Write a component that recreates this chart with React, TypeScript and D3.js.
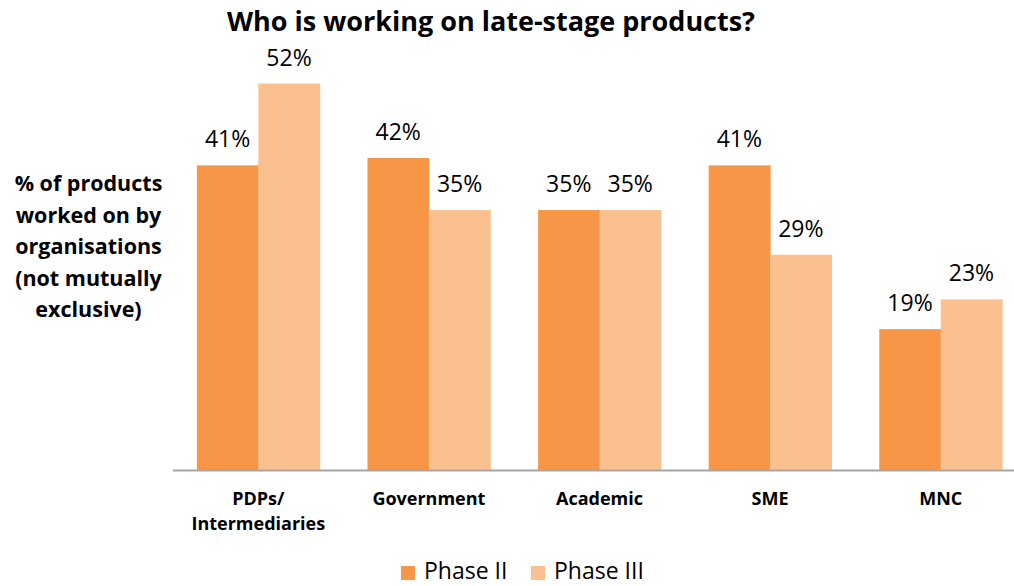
import * as d3 from 'd3'

// chart data
const categories = ['PDPs/\nIntermediaries', 'Government', 'Academic', 'SME', 'MNC']
const series = ['Phase II', 'Phase III']
const phase2 = [41, 42, 35, 41, 19]
const phase3 = [52, 35, 35, 29, 23]
const colors = ['#F79646', '#FAC090']
const yLabelLines = ['% of products', 'worked on by', 'organisations', '(not mutually', 'exclusive)']

const W = 1014
const H = 586
const baseline = 470.5
const font = '"Open Sans", "Noto Sans", sans-serif'

export default function App() {
  const x0 = d3.scaleBand<string>()
    .domain(categories)
    .range([173, 1026])
    .paddingInner(0.28)
    .paddingOuter(0.14)

  const x1 = d3.scaleBand<string>()
    .domain(series)
    .range([0, x0.bandwidth()])

  // ~7.44px per percentage point
  const y = d3.scaleLinear().domain([0, 60]).range([baseline, baseline - 446.5])

  const values = [phase2, phase3]

  return (
    <svg width={W} height={H} style={{ position: 'absolute', left: 0, top: 0, background: '#fff' }}>
      <text x={491} y={31} textAnchor="middle" fontFamily={font} fontWeight="bold" fontSize={26}
        textLength={528} lengthAdjust="spacingAndGlyphs" fill="#000">
        Who is working on late-stage products?
      </text>

      {yLabelLines.map((t, i) => (
        <text key={t} x={88.5} y={191 + i * 31.5} textAnchor="middle" fontFamily={font}
          fontWeight="bold" fontSize={21.5} fill="#000">{t}</text>
      ))}

      {categories.map((c, ci) => (
        <g key={c} transform={`translate(${x0(c)},0)`}>
          {series.map((s, si) => {
            const v = values[si][ci]
            const bx = x1(s)!
            return (
              <g key={s}>
                <rect x={bx} y={y(v)} width={x1.bandwidth() + 0.5} height={baseline - y(v)} fill={colors[si]} />
                <text x={bx + x1.bandwidth() / 2} y={y(v) - 18} textAnchor="middle" fontFamily={font}
                  fontSize={23} fill="#000">{v}%</text>
              </g>
            )
          })}
          {c.split('\n').map((line, li) => (
            <text key={line} x={x0.bandwidth() / 2} y={505 + li * 25} textAnchor="middle"
              fontFamily={font} fontWeight="bold" fontSize={18} fill="#000">{line}</text>
          ))}
        </g>
      ))}

      <line x1={173} x2={W} y1={baseline} y2={baseline} stroke="#A6A6A6" strokeWidth={2} />

      {series.map((s, i) => {
        const lx = i === 0 ? 401 : 531
        return (
          <g key={s}>
            <rect x={lx} y={566} width={14} height={14} fill={colors[i]} />
            <text x={lx + 23} y={579} fontFamily={font} fontSize={23} fill="#000">{s}</text>
          </g>
        )
      })}
    </svg>
  )
}
